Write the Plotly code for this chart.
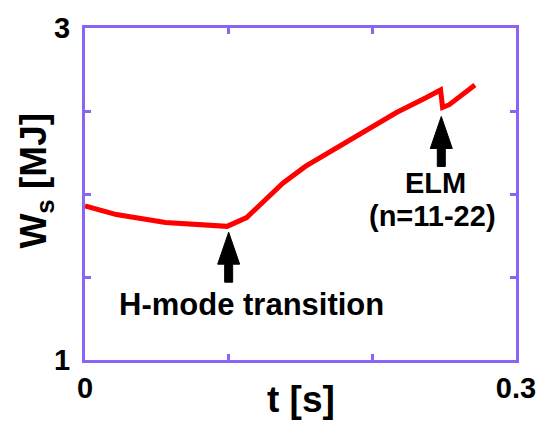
import plotly.graph_objects as go

# Stored energy W_s versus time
t_s = [0.0, 0.0218, 0.056, 0.0989, 0.1125, 0.126, 0.1377, 0.1534, 0.1718,
       0.1943, 0.2168, 0.2373, 0.2475, 0.2489, 0.2536, 0.2714]
ws_mj = [1.929, 1.876, 1.828, 1.805, 1.858, 1.964, 2.065, 2.166, 2.260,
         2.379, 2.491, 2.580, 2.627, 2.521, 2.538, 2.657]

# Labelled end ticks and unlabelled inner ticks
x_ticks = [0.0, 0.3]
x_ticktext = ["0", "0.3"]
x_minor = [0.1, 0.2]
y_ticks = [1.0, 3.0]
y_ticktext = ["1", "3"]
y_minor = [1.5, 2.0, 2.5]

# Event markers: arrow tips and their labels
event_t = [0.1, 0.248]
event_w = [1.77, 2.467]
label_t = [0.1159, 0.244, 0.242]
label_w = [1.337, 2.065, 1.865]
label_text = ["H-mode transition", "ELM", "(n=11-22)"]
label_size = [31, 29, 29]

AXIS_COLOR = "#8a63f7"
FONT = "Liberation Sans"

fig = go.Figure()
fig.add_trace(go.Scatter(x=t_s, y=ws_mj, mode="lines",
                         line=dict(color="#ff0000", width=5),
                         hoverinfo="skip", showlegend=False))

# Upward arrows drawn as pixel-sized polygons anchored at the event points
arrow_path = "M0,0 L11,-32 L4,-32 L4,-50 L-4,-50 L-4,-32 L-11,-32 Z"
for xa, ya in zip(event_t, event_w):
    fig.add_shape(type="path", xref="x", yref="y",
                  xsizemode="pixel", ysizemode="pixel",
                  xanchor=xa, yanchor=ya, path=arrow_path,
                  fillcolor="black", line=dict(color="black", width=1))

for xl, yl, txt, sz in zip(label_t, label_w, label_text, label_size):
    fig.add_annotation(x=xl, y=yl, xref="x", yref="y", text=txt,
                       showarrow=False,
                       font=dict(family=FONT, size=sz, color="black",
                                 weight="bold"))

axis_common = dict(showline=True, linecolor=AXIS_COLOR, linewidth=3,
                   mirror="allticks", ticks="inside", ticklen=6,
                   tickwidth=3, tickcolor=AXIS_COLOR, showgrid=False,
                   zeroline=False,
                   tickfont=dict(family=FONT, size=29, color="black",
                                 weight="bold"))
minor_common = dict(ticks="inside", ticklen=6, tickwidth=3,
                    tickcolor=AXIS_COLOR, showgrid=False)

fig.update_layout(
    width=548, height=422,
    margin=dict(l=85, r=23, t=22, b=62),
    plot_bgcolor="white", paper_bgcolor="white",
    xaxis=dict(range=[0, 0.3], tickvals=x_ticks, ticktext=x_ticktext,
               ticklabelstandoff=0, minor=dict(tickvals=x_minor, **minor_common),
               **axis_common),
    yaxis=dict(range=[1, 3], tickvals=y_ticks, ticktext=y_ticktext,
               ticklabelstandoff=6, minor=dict(tickvals=y_minor, **minor_common),
               **axis_common),
)

# Axis titles
fig.add_annotation(x=0.5, y=-0.118, xref="paper", yref="paper",
                   yanchor="middle", text="t [s]", showarrow=False,
                   font=dict(family=FONT, size=37, color="black",
                             weight="bold"))
fig.add_annotation(x=-0.114, y=0.54, xref="paper", yref="paper",
                   xanchor="center", text="W<sub>s</sub> [MJ]", textangle=-90,
                   showarrow=False,
                   font=dict(family=FONT, size=37, color="black",
                             weight="bold"))

fig.write_html("out.html")
